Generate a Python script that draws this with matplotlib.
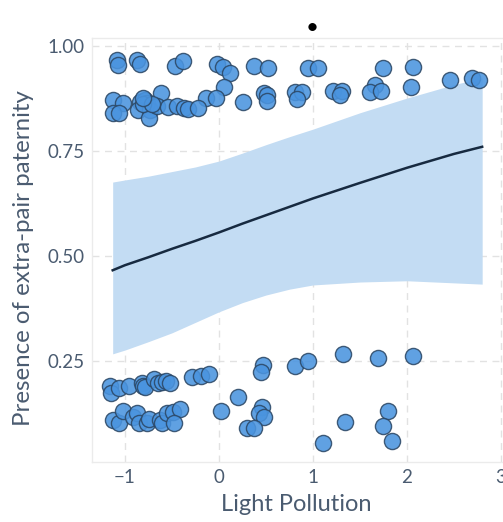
import numpy as np
import matplotlib.pyplot as plt

plt.rcParams['font.family'] = ['Lato', 'DejaVu Sans']

# Observed data (jittered presence of extra-pair paternity)
light_top = [-1.085, -1.074, -0.872, -0.840, -0.468, -0.383, -0.021, 0.043, 0.117,
             0.372, 0.521, 0.053, -0.138, -0.032, 0.255, 0.479, 0.511, 0.511,
             -1.128, -1.021, -1.128, -1.064, -0.840, -0.787, -0.766, -0.862,
             -0.734, -0.745, -0.617, -0.660, -0.543, -0.447, -0.372, -0.330,
             -0.223, -0.809, -0.713, -0.809, 0.947, 1.053, 1.745, 2.064, 2.457,
             2.691, 2.766, 0.809, 0.883, 0.830, 1.213, 1.309, 1.287, 1.660,
             1.606, 1.723, 2.043]
epp_top = [0.967, 0.955, 0.967, 0.957, 0.952, 0.964, 0.957, 0.950, 0.936,
           0.952, 0.948, 0.902, 0.876, 0.876, 0.867, 0.888, 0.883, 0.869,
           0.871, 0.864, 0.840, 0.840, 0.867, 0.871, 0.864, 0.848,
           0.848, 0.829, 0.888, 0.857, 0.855, 0.857, 0.852, 0.850,
           0.852, 0.862, 0.862, 0.876, 0.948, 0.948, 0.948, 0.950, 0.919,
           0.924, 0.919, 0.890, 0.890, 0.874, 0.893, 0.893, 0.883, 0.907,
           0.890, 0.893, 0.902]

light_bot = [-1.160, -1.149, -1.064, -0.957, -0.819, -0.809, -0.787, -0.691, -0.649,
             -0.606, -0.564, -0.521, -0.287, -0.191, -0.106, -1.128, -1.064, -1.021,
             -0.915, -0.872, -0.851, -0.766, -0.745, -0.628, -0.606, -0.553, -0.489,
             -0.415, -0.479, 0.021, 0.202, 0.457, 0.426, 0.479, 0.298, 0.372,
             0.468, 0.447, 0.809, 0.947, 1.319, 1.691, 2.064, 1.798, 1.340,
             1.745, 1.106, 1.840]
epp_bot = [0.190, 0.174, 0.186, 0.190, 0.198, 0.190, 0.188, 0.207, 0.198,
           0.200, 0.202, 0.198, 0.212, 0.214, 0.219, 0.110, 0.102, 0.131,
           0.117, 0.126, 0.102, 0.102, 0.112, 0.110, 0.102, 0.126, 0.129,
           0.136, 0.102, 0.131, 0.164, 0.140, 0.126, 0.117, 0.090, 0.090,
           0.240, 0.224, 0.238, 0.250, 0.267, 0.257, 0.262, 0.131, 0.105,
           0.095, 0.055, 0.060]

# Fitted curve and confidence band
fit_x = [-1.13, -1.0, -0.75, -0.5, -0.25, 0.0, 0.25, 0.5, 0.75, 1.0, 1.5, 2.0, 2.5, 2.8]
fit_y = [0.466, 0.478, 0.497, 0.517, 0.536, 0.556, 0.577, 0.597, 0.617, 0.637,
         0.674, 0.710, 0.743, 0.760]
fit_lo = [0.267, 0.276, 0.296, 0.317, 0.342, 0.367, 0.389, 0.407, 0.421, 0.431,
          0.438, 0.441, 0.436, 0.433]
fit_hi = [0.676, 0.681, 0.690, 0.701, 0.712, 0.726, 0.745, 0.765, 0.784, 0.802,
          0.841, 0.876, 0.908, 0.924]

text_col = '#4a5b70'

fig = plt.figure(figsize=(5.03, 5.22), dpi=100)
ax = fig.add_axes([92 / 503, 60 / 522, 440 / 503, 424 / 522])

ax.fill_between(fit_x, fit_lo, fit_hi, color='#c3dcf3', lw=0, zorder=1)
ax.plot(fit_x, fit_y, color='#172a40', lw=1.8, zorder=2)

x_pts = np.array(light_top + light_bot)
y_pts = np.array(epp_top + epp_bot)
ax.scatter(x_pts, y_pts, s=135, facecolor='#4a94df', edgecolor='#2c4866',
           linewidth=1.0, alpha=0.88, zorder=3)

ax.set_xlim(-1.35, 3.33)
ax.set_ylim(0.0095, 1.019)
ax.set_xticks([-1, 0, 1, 2, 3])
ax.set_xticklabels(['\u22121', '0', '1', '2', '3'])
ax.set_yticks([0.25, 0.5, 0.75, 1.0])
ax.set_yticklabels(['0.25', '0.50', '0.75', '1.00'])
ax.tick_params(length=0, labelsize=13.5, labelcolor=text_col, pad=5)

ax.grid(True, color='#e2e2e2', linestyle=(0, (5, 4)), linewidth=1)
ax.set_axisbelow(True)
for s in ax.spines.values():
    s.set_color('#ebebeb')
    s.set_linewidth(1)

ax.set_xlabel('Light Pollution', fontsize=17, color=text_col, labelpad=6)
ax.set_ylabel('Presence of extra-pair paternity', fontsize=17.3, color=text_col, labelpad=10)
ax.xaxis.label.set_x(0.464)
ax.yaxis.label.set_y(0.481)
ax.set_title('\u2022', fontsize=16, color='black', pad=2)

fig.savefig('out.png', dpi=100)
